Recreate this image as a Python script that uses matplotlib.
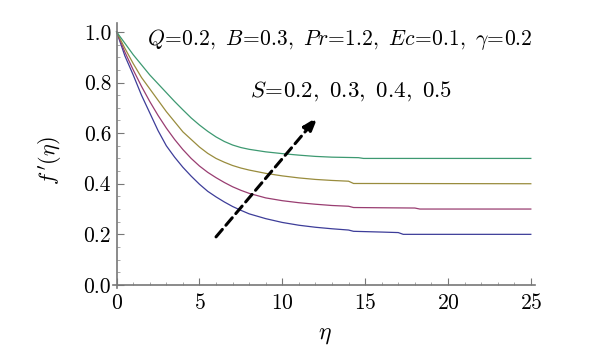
import numpy as np
import matplotlib
matplotlib.use('Agg')
import matplotlib.pyplot as plt
from matplotlib.ticker import MultipleLocator

plt.rcParams['font.family'] = 'serif'
plt.rcParams['font.serif'] = ['cmr10']
plt.rcParams['mathtext.fontset'] = 'cm'
plt.rcParams['axes.formatter.use_mathtext'] = True

# values: f'(eta) for S = 0.2, 0.3, 0.4, 0.5
eta_s02 = [0, 0.5, 1, 1.5, 2, 2.5, 3, 3.5, 4, 4.5, 5, 5.5, 6, 6.5, 7, 7.5, 8, 9, 10, 11, 12, 13, 14, 14.3, 16, 17, 17.3, 25]
f_s02 = [1.0, 0.905, 0.83, 0.75, 0.68, 0.61, 0.55, 0.505, 0.465, 0.43, 0.398, 0.37, 0.348, 0.328, 0.31, 0.295, 0.281,
         0.262, 0.247, 0.236, 0.228, 0.222, 0.217, 0.212, 0.209, 0.207, 0.200, 0.200]

eta_s03 = [0, 0.5, 1, 1.5, 2, 2.5, 3, 3.5, 4, 4.5, 5, 5.5, 6, 6.5, 7, 7.5, 8, 9, 10, 11, 12, 13, 14, 14.3, 16, 18, 18.3, 25]
f_s03 = [1.0, 0.92, 0.85, 0.785, 0.725, 0.67, 0.62, 0.575, 0.535, 0.50, 0.47, 0.445, 0.424, 0.405, 0.388, 0.374, 0.362,
         0.344, 0.333, 0.325, 0.319, 0.314, 0.311, 0.306, 0.305, 0.304, 0.300, 0.300]

eta_s04 = [0, 0.5, 1, 1.5, 2, 2.5, 3, 3.5, 4, 4.5, 5, 5.5, 6, 6.5, 7, 7.5, 8, 9, 10, 11, 12, 13, 14, 14.3, 25]
f_s04 = [1.0, 0.935, 0.875, 0.82, 0.775, 0.73, 0.685, 0.645, 0.605, 0.575, 0.545, 0.52, 0.50, 0.485, 0.472, 0.462, 0.454,
         0.441, 0.431, 0.423, 0.417, 0.413, 0.410, 0.401, 0.400]

eta_s05 = [0, 0.5, 1, 1.5, 2, 2.5, 3, 3.5, 4, 4.5, 5, 5.5, 6, 6.5, 7, 7.5, 8, 9, 10, 11, 12, 13, 14.6, 14.9, 25]
f_s05 = [1.0, 0.955, 0.91, 0.87, 0.83, 0.795, 0.76, 0.725, 0.692, 0.66, 0.632, 0.607, 0.585, 0.567, 0.553, 0.543, 0.536,
         0.526, 0.519, 0.513, 0.508, 0.505, 0.503, 0.500, 0.500]

colors = ['#3d3d99', '#993d71', '#998c3d', '#3d9971']

fig = plt.figure(figsize=(6, 3.59), dpi=100)
ax = fig.add_axes([0.1883, 0.1978, 0.7033, 0.738])

for x, y, c in zip([eta_s02, eta_s03, eta_s04, eta_s05],
                   [f_s02, f_s03, f_s04, f_s05], colors):
    ax.plot(x, y, color=c, lw=0.9)

ax.set_xlim(-0.22, 25.25)
ax.set_ylim(-0.012, 1.035)

for side in ['top', 'right']:
    ax.spines[side].set_visible(False)
for side in ['left', 'bottom']:
    ax.spines[side].set_position(('data', 0))
    ax.spines[side].set_color('#777777')
    ax.spines[side].set_linewidth(1.2)

ax.xaxis.set_major_locator(MultipleLocator(5))
ax.xaxis.set_minor_locator(MultipleLocator(1))
ax.yaxis.set_major_locator(MultipleLocator(0.2))
ax.yaxis.set_minor_locator(MultipleLocator(0.05))
ax.yaxis.set_major_formatter(plt.FuncFormatter(lambda v, p: '%.1f' % v))
ax.tick_params(which='major', direction='in', length=5, width=0.8, color='#777777', labelsize=15.5)
ax.tick_params(which='minor', direction='in', length=2.5, width=0.6, color='#999999')
ax.tick_params(axis='x', pad=6)
ax.tick_params(axis='y', pad=4)

# arrow showing increasing S
ax.annotate('', xy=(12.15, 0.665), xytext=(6.0, 0.19),
            arrowprops=dict(arrowstyle='-|>,head_length=0.9,head_width=0.3',
                            color='black', lw=2.2, linestyle=(0, (3.2, 1.8)),
                            shrinkA=0, shrinkB=0))

ax.text(1.83, 0.971, r'$Q\!=\!0.2,\ B\!=\!0.3,\ Pr\!=\!1.2,\ Ec\!=\!0.1,\ \gamma\!=\!0.2$',
        fontsize=15.5, va='center', ha='left')
ax.text(8.03, 0.766, r'$S\!=\!0.2,\ 0.3,\ 0.4,\ 0.5$', fontsize=16.5, va='center', ha='left')

fig.text(0.542, 0.067, r'$\eta$', fontsize=17, ha='center', va='center')
fig.text(0.083, 0.554, r"$f\,'(\eta)$", fontsize=16, ha='center', va='center', rotation=90)

fig.savefig('out.png', dpi=100)
